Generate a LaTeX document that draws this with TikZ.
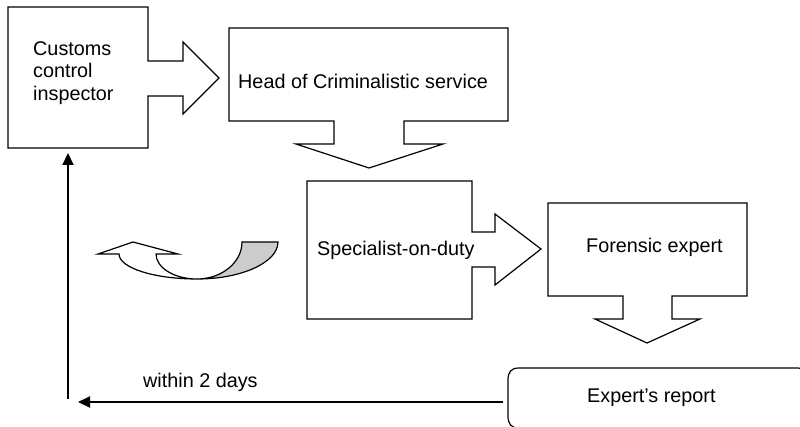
\documentclass[tikz,border=0pt]{standalone}
\usepackage{fontspec}
\setmainfont{Liberation Sans}
\usetikzlibrary{arrows.meta}
\definecolor{crescent}{RGB}{204,204,204}
\begin{document}
\begin{tikzpicture}[x=1pt,y=-1pt,
  shapeline/.style={draw=black, line width=1.2pt, line join=miter, fill=white},
  lbl/.style={inner sep=0pt, font=\fontsize{19.8}{22.5}\selectfont},
  flow/.style={draw=black, line width=2pt, -{Triangle[length=12pt,width=11pt]}}]
\useasboundingbox (0,0) rectangle (800,427);
\clip (0,0) rectangle (800,427);

% Customs control inspector (box with right arrow)
\draw[shapeline] (8,7) -- (148,7) -- (148,61) -- (183,61) -- (183,42) -- (219,78)
  -- (183,114) -- (183,96) -- (148,96) -- (148,148) -- (8,148) -- cycle;
% Head of Criminalistic service (box with down arrow)
\draw[shapeline] (229,28) -- (508,28) -- (508,121) -- (404,121) -- (404,144) -- (443,144)
  -- (369,168) -- (296,144) -- (334,144) -- (334,121) -- (229,121) -- cycle;
% Specialist-on-duty (box with right arrow)
\draw[shapeline] (307,181) -- (472,181) -- (472,232) -- (495,232) -- (495,214) -- (541,249)
  -- (495,285) -- (495,267) -- (472,267) -- (472,319) -- (307,319) -- cycle;
% Forensic expert (box with down arrow)
\draw[shapeline] (548,203) -- (747,203) -- (747,296) -- (672,296) -- (672,319) -- (700,319)
  -- (647,343) -- (595,319) -- (623,319) -- (623,296) -- (548,296) -- cycle;
% Expert's report (bracket box)
\draw[shapeline] (519,368) -- (797,368) .. controls (805,368) and (808,372) .. (808,380)
  -- (808,416) .. controls (808,424) and (805,428) .. (797,428) -- (519,428)
  .. controls (511,428) and (508,424) .. (508,416) -- (508,380)
  .. controls (508,372) and (511,368) .. (519,368) -- cycle;

% curved arrow: grey tail
\draw[shapeline, fill=crescent] (242,242) -- (278,242)
  .. controls (278,262.4) and (241.7,279) .. (197,279)
  .. controls (221.8,279) and (242,262.4) .. (242,242) -- cycle;
% curved arrow: white body and head
\draw[shapeline] (119,254) .. controls (119,267.8) and (154,279) .. (197,279)
  .. controls (174.4,279) and (156,267.8) .. (156,254)
  -- (178,254) -- (133,242) -- (98,254) -- cycle;

% texts
\node[lbl, anchor=north west, align=left] (customs) at (33,41) {Customs\\control\\inspector};
\node[lbl, anchor=base west] (head) at (238,89) {Head of Criminalistic service};
\node[lbl, anchor=base west] (spec) at (317,256) {Specialist-on-duty};
\node[lbl, anchor=base west] (forensic) at (586,253) {Forensic expert};
\node[lbl, anchor=base west] (report) at (587,402) {Expert’s report};
\node[lbl, anchor=base west] (days) at (143,387) {within 2 days};

% connectors
\coordinate (repIn) at (503,402);
\coordinate (retEnd) at (78,402);
\coordinate (upStart) at (68,399);
\coordinate (upEnd) at (68,153);
\draw[flow] (repIn) -- (retEnd);
\draw[flow] (upStart) -- (upEnd);
\end{tikzpicture}
\end{document}
